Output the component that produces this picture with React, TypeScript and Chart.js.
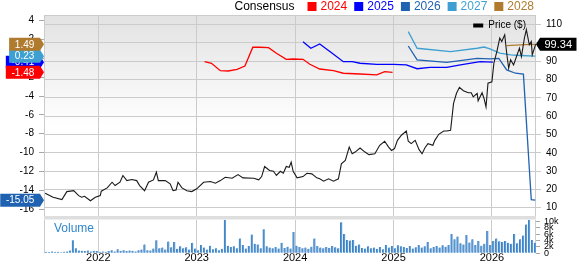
import React, { useEffect, useRef } from "react";
import { Chart, registerables } from "chart.js";

Chart.register(...registerables);

const FONT = "'Liberation Sans', Arial, Helvetica, sans-serif";

// ---------- axes ----------
const X_MIN = 2021.448;
const X_MAX = 2026.448;
const yearTicks = [2022, 2023, 2024, 2025, 2026];
const LEFT_MIN = -16.73;
const LEFT_MAX = 4.6;
const leftTicks = [4, 2, 0, -2, -4, -6, -8, -10, -12, -14, -16];
const RIGHT_MIN = 5.46;
const RIGHT_MAX = 115.3;
const rightTicks = [10, 20, 30, 40, 50, 60, 70, 80, 90, 100, 110];
const VOL_MAX = 10.5;
const volTicks = [0, 2, 4, 6, 8, 10];

// ---------- price ($, right axis) ----------
const priceYears = [
  2021.46, 2021.54, 2021.63, 2021.68, 2021.75, 2021.8, 2021.83, 2021.86, 2021.92, 2021.97,
  2022.02, 2022.03, 2022.09, 2022.14, 2022.17, 2022.22, 2022.25, 2022.29, 2022.34, 2022.39,
  2022.42, 2022.47, 2022.51, 2022.56, 2022.59, 2022.61, 2022.68, 2022.73, 2022.76, 2022.79,
  2022.81, 2022.85, 2022.9, 2022.95,
  2023.0, 2023.07, 2023.14, 2023.19, 2023.24, 2023.29, 2023.36, 2023.42, 2023.47, 2023.58,
  2023.63, 2023.66, 2023.69, 2023.74, 2023.78, 2023.81, 2023.85, 2023.88, 2023.91, 2023.94,
  2023.96, 2023.98,
  2024.02, 2024.08, 2024.12, 2024.17, 2024.22, 2024.25, 2024.29, 2024.34, 2024.39, 2024.44,
  2024.47, 2024.51, 2024.55, 2024.58, 2024.61, 2024.66, 2024.71, 2024.75, 2024.81, 2024.86,
  2024.91, 2024.95, 2024.98,
  2025.01, 2025.04, 2025.08, 2025.13, 2025.15, 2025.18, 2025.22, 2025.26, 2025.29, 2025.32,
  2025.35, 2025.4, 2025.42, 2025.46, 2025.51, 2025.54, 2025.58, 2025.61, 2025.64, 2025.67,
  2025.71, 2025.76, 2025.79, 2025.81, 2025.85, 2025.86, 2025.9, 2025.92, 2025.94, 2025.96,
  2026.0, 2026.02, 2026.05, 2026.08, 2026.1, 2026.13, 2026.15, 2026.17, 2026.19, 2026.22,
  2026.25, 2026.28, 2026.3, 2026.33, 2026.35, 2026.38, 2026.4, 2026.41, 2026.445,
];
const priceValues = [
  17.9, 15.7, 14.4, 18.8, 19.3, 16.6, 15.7, 16.2, 13.8, 15.7,
  16.6, 19.0, 20.8, 23.9, 22.1, 23.9, 27.6, 24.8, 25.4, 24.8,
  22.1, 19.3, 23.9, 25.2, 29.4, 24.8, 24.8, 23.0, 19.3, 19.7,
  23.9, 20.8, 19.3, 18.8,
  20.3, 23.9, 24.3, 23.4, 24.8, 26.6, 26.1, 28.1, 26.3, 26.1,
  25.2, 27.0, 32.5, 30.3, 29.9, 27.6, 29.9, 28.8, 32.5, 32.1,
  34.9, 29.9,
  26.3, 27.0, 28.8, 28.5, 26.3, 25.8, 24.5, 25.8, 24.5, 25.8,
  34.0, 35.8, 43.1, 39.5, 40.4, 42.6, 40.4, 39.0, 39.5, 44.1,
  46.3, 43.1, 41.3,
  42.3, 46.8, 49.6, 51.9, 46.3, 45.0, 46.8, 41.7, 39.5, 42.8,
  45.0, 44.1, 46.8, 50.1, 51.9, 51.9, 52.3, 67.0, 72.5, 75.8,
  73.9, 72.8, 72.8, 70.6, 72.5, 68.4, 72.8, 69.7, 65.1, 78.0,
  78.8, 89.0, 95.3, 102.7, 100.8, 104.5, 94.5, 86.2, 90.8, 88.0,
  92.6, 97.2, 92.6, 102.7, 107.3, 99.0, 100.8, 93.5, 99.34,
];

// ---------- consensus EPS estimates (left axis) ----------
const est2024Years = [
  2023.08, 2023.15, 2023.24, 2023.32, 2023.41, 2023.49, 2023.57, 2023.64, 2023.73, 2023.81,
  2023.91, 2023.98, 2024.08, 2024.15, 2024.25, 2024.39, 2024.49, 2024.66, 2024.83, 2024.91, 2024.99,
];
const est2024Values = [
  -0.35, -0.52, -1.31, -1.34, -1.16, -0.81, 1.18, 1.18, 1.13, 0.54,
  -0.1, -0.07, -0.1, -0.63, -1.13, -1.31, -1.58, -1.66, -1.76, -1.41, -1.48,
];
const est2025Years = [
  2024.08, 2024.16, 2024.25, 2024.37, 2024.49, 2024.58, 2024.66, 2024.83, 2025.0, 2025.13,
  2025.24, 2025.37, 2025.54, 2025.68, 2025.88, 2026.01,
];
const est2025Values = [
  1.77, 1.07, 1.53, 0.6, -0.35, -0.35, -0.52, -0.63, -0.63, -0.7,
  -1.1, -0.95, -0.95, -0.7, -0.35, -0.41,
];
const est2026Years = [2025.15, 2025.24, 2025.54, 2025.85, 2025.98, 2026.07, 2026.15, 2026.24, 2026.32, 2026.4, 2026.44];
const est2026Values = [1.31, -0.17, -0.42, 0.0, -0.05, 0.0, -1.23, -1.58, -1.68, -15.0, -15.05];
const est2027Years = [2025.15, 2025.24, 2025.58, 2025.85, 2025.92, 2025.98, 2026.08, 2026.19, 2026.29, 2026.44];
const est2027Values = [2.83, 1.07, 0.71, 1.07, 1.2, 1.0, 0.55, 0.36, 0.3, 0.23];
const est2028Years = [2026.15, 2026.24, 2026.34, 2026.44];
const est2028Values = [1.35, 1.4, 1.45, 1.49];

const seriesNames = ["2024", "2025", "2026", "2027", "2028"];
const seriesColors = ["#ff0000", "#0000ff", "#1f62b2", "#3ea0d2", "#b07b2e"];
const lastEstimates = [-1.48, -0.41, -15.05, 0.23, 1.49];
const lastPrice = 99.34;

// ---------- volume (thousands) ----------
const VOL_START = 2021.47;
const VOL_STEP = 0.0303;
const volumeValues = [
  0.5, 0.4, 0.6, 0.4, 0.5, 0.3, 0.5, 0.6, 0.9, 4.1,
  1.6, 0.9, 0.8, 0.7, 0.9, 0.6, 0.8, 0.7, 0.5, 0.6,
  0.5, 0.7, 1.0, 0.6, 1.3, 0.8, 1.0, 0.7, 0.9, 0.8,
  0.6, 1.0, 1.2, 2.8, 1.0, 0.9, 1.5, 4.1, 1.6, 1.8,
  1.2, 3.7, 1.9, 3.6, 1.4, 2.2, 1.6, 1.9, 1.2, 3.3,
  1.5, 1.0, 2.6, 1.8, 1.2, 2.4, 1.3, 1.6, 1.0, 1.4,
  10.8, 2.4, 2.0, 2.2, 1.6, 4.7, 2.6, 1.5, 2.3, 5.9,
  3.0, 2.8, 1.6, 7.6, 2.2, 1.8, 1.6, 2.0, 1.5, 3.3,
  1.7, 2.1, 1.5, 6.7, 2.4, 2.0, 1.6, 1.8, 1.4, 2.1,
  4.7, 2.3, 1.8, 1.6, 2.0, 1.7, 2.3, 1.9, 1.6, 9.8,
  6.1, 4.2, 4.0, 4.2, 2.4, 2.8, 1.7, 1.5, 2.2, 1.6,
  1.8, 1.4, 2.0, 1.3, 2.6, 1.8, 2.3, 1.6, 2.5, 2.2,
  2.0, 1.7, 2.3, 1.5, 1.9, 2.6, 1.8, 2.2, 3.6, 1.6,
  2.0, 2.3, 1.8, 2.5, 2.1, 2.6, 6.1, 4.4, 5.3, 3.2,
  2.8, 5.8, 3.4, 4.4, 2.6, 3.9, 2.4, 3.0, 7.0, 2.6,
  3.9, 4.7, 3.8, 3.6, 3.9, 3.3, 3.0, 6.1, 3.2, 4.4,
  5.6, 9.1, 10.6, 4.2, 3.3,
];

const GRID = "#cbcbcb";

const pts = (xs: number[], ys: number[]) => xs.map((x, i) => ({ x, y: ys[i] }));

const fixBox = (w?: number, h?: number) => (s: any) => {
  if (w !== undefined) s.width = w;
  if (h !== undefined) s.height = h;
  s.paddingLeft = 0;
  s.paddingRight = 0;
  s.paddingTop = 0;
  s.paddingBottom = 0;
};
const setTicks = (vals: number[]) => (s: any) => {
  s.ticks = vals.map((v) => ({ value: v }));
};

function flagLeft(ctx: CanvasRenderingContext2D, tipX: number, y: number, text: string, color: string) {
  ctx.font = `10px ${FONT}`;
  const w = ctx.measureText(text).width;
  const pad = 5.7, h = 13, arrow = 4;
  const right = tipX - arrow;
  const left = right - w - 2 * pad;
  ctx.beginPath();
  ctx.moveTo(left, y - h / 2);
  ctx.lineTo(right, y - h / 2);
  ctx.lineTo(tipX, y);
  ctx.lineTo(right, y + h / 2);
  ctx.lineTo(left, y + h / 2);
  ctx.closePath();
  ctx.fillStyle = color;
  ctx.fill();
  ctx.fillStyle = "#ffffff";
  ctx.textAlign = "center";
  ctx.textBaseline = "middle";
  ctx.fillText(text, (left + right) / 2, y + 0.5);
}

function flagRight(ctx: CanvasRenderingContext2D, tipX: number, y: number, text: string, color: string) {
  ctx.font = `11px ${FONT}`;
  const w = ctx.measureText(text).width;
  const pad = 4.5, h = 13, arrow = 4;
  const left = tipX + arrow;
  const right = left + w + 2 * pad;
  ctx.beginPath();
  ctx.moveTo(tipX, y);
  ctx.lineTo(left, y - h / 2);
  ctx.lineTo(right, y - h / 2);
  ctx.lineTo(right, y + h / 2);
  ctx.lineTo(left, y + h / 2);
  ctx.closePath();
  ctx.fillStyle = color;
  ctx.fill();
  ctx.fillStyle = "#ffffff";
  ctx.textAlign = "center";
  ctx.textBaseline = "middle";
  ctx.fillText(text, (left + right) / 2, y + 0.5);
}

const mainPlugin = {
  id: "mainDecor",
  beforeDraw(chart: any) {
    const { ctx, chartArea: a } = chart;
    ctx.save();
    const g = ctx.createLinearGradient(0, a.top, 0, a.bottom);
    g.addColorStop(0, "#e2e2e2");
    g.addColorStop(0.55, "#ffffff");
    g.addColorStop(1, "#ffffff");
    ctx.fillStyle = g;
    ctx.fillRect(a.left, a.top, a.right - a.left, a.bottom - a.top);
    ctx.restore();
  },
  beforeDatasetsDraw(chart: any) {
    const { ctx, chartArea: a } = chart;
    ctx.save();
    ctx.strokeStyle = GRID;
    ctx.lineWidth = 1;
    ctx.strokeRect(a.left + 0.5, a.top + 0.5, a.right - a.left - 1, a.bottom - a.top);
    ctx.restore();
  },
  afterDraw(chart: any) {
    const { ctx, chartArea: a, scales } = chart;
    ctx.save();
    // top legend
    ctx.font = `12px ${FONT}`;
    ctx.textBaseline = "middle";
    ctx.textAlign = "left";
    const cw = ctx.measureText("Consensus").width;
    const ws = seriesNames.map((t) => ctx.measureText(t).width);
    const sq = 9;
    let total = cw + 13;
    ws.forEach((w, i) => {
      total += sq + 4 + w + (i < ws.length - 1 ? 7 : 0);
    });
    let x = a.right - 2 - total;
    const ly = 6.5;
    ctx.fillStyle = "#000000";
    ctx.fillText("Consensus", x, ly);
    x += cw + 13;
    seriesNames.forEach((t, i) => {
      ctx.fillStyle = seriesColors[i];
      ctx.fillRect(x, ly - 4.5, sq, 9);
      x += sq + 4;
      ctx.fillText(t, x, ly);
      x += ws[i] + 7;
    });
    // price legend
    ctx.font = `10px ${FONT}`;
    const pw = ctx.measureText("Price ($)").width;
    const px = a.right - 10 - pw;
    ctx.fillStyle = "#000000";
    ctx.fillText("Price ($)", px, 25.5);
    ctx.fillRect(px - 15, 23.5, 10, 4);
    // left flags (estimates)
    const yl = scales.yL;
    const order = [1, 3, 0, 4, 2];
    order.forEach((i) => {
      flagLeft(ctx, a.left, yl.getPixelForValue(lastEstimates[i]), lastEstimates[i].toFixed(2), seriesColors[i]);
    });
    // right flag (price)
    flagRight(ctx, a.right, scales.yR.getPixelForValue(lastPrice), lastPrice.toFixed(2), "#000000");
    ctx.restore();
  },
};

const volPlugin = {
  id: "volDecor",
  beforeDraw(chart: any) {
    const { ctx, chartArea: a } = chart;
    ctx.save();
    ctx.fillStyle = "#dedede";
    ctx.fillRect(a.left, 0, a.right - a.left, 3.5);
    ctx.restore();
  },
  beforeDatasetsDraw(chart: any) {
    const { ctx, chartArea: a } = chart;
    ctx.save();
    ctx.strokeStyle = GRID;
    ctx.lineWidth = 1;
    ctx.beginPath();
    ctx.moveTo(a.left + 0.5, a.top);
    ctx.lineTo(a.left + 0.5, a.bottom);
    ctx.moveTo(a.right - 0.5, a.top);
    ctx.lineTo(a.right - 0.5, a.bottom);
    ctx.stroke();
    ctx.font = `12px ${FONT}`;
    ctx.fillStyle = "#2f86cc";
    ctx.textAlign = "left";
    ctx.textBaseline = "middle";
    ctx.fillText("Volume", a.left + 10, a.top + 9);
    ctx.restore();
  },
};

export default function App() {
  const mainRef = useRef<HTMLCanvasElement>(null);
  const volRef = useRef<HTMLCanvasElement>(null);

  useEffect(() => {
    const estSets = [
      [est2024Years, est2024Values],
      [est2025Years, est2025Values],
      [est2026Years, est2026Values],
      [est2027Years, est2027Values],
      [est2028Years, est2028Values],
    ].map(([xs, ys], i) => ({
      label: seriesNames[i],
      data: pts(xs, ys),
      yAxisID: "yL",
      borderColor: seriesColors[i],
      borderWidth: 1.3,
      pointRadius: 0,
      tension: 0,
    }));

    const main = new Chart(mainRef.current!, {
      type: "line",
      data: {
        datasets: [
          {
            label: "Price ($)",
            data: pts(priceYears, priceValues),
            yAxisID: "yR",
            borderColor: "#1a1a1a",
            borderWidth: 1.1,
            pointRadius: 0,
            tension: 0,
          },
          ...estSets,
        ],
      },
      options: {
        responsive: false,
        animation: false,
        events: [],
        layout: { padding: { top: 15, bottom: 0, left: 0, right: 0 } },
        plugins: { legend: { display: false }, tooltip: { enabled: false } },
        scales: {
          x: {
            type: "linear",
            min: X_MIN,
            max: X_MAX,
            afterBuildTicks: setTicks(yearTicks),
            afterFit: fixBox(undefined, 0),
            ticks: { display: false },
            grid: { color: GRID, drawTicks: false, lineWidth: 1 },
            border: { display: false },
          },
          yL: {
            type: "linear",
            position: "left",
            min: LEFT_MIN,
            max: LEFT_MAX,
            afterBuildTicks: setTicks(leftTicks),
            afterFit: fixBox(44),
            ticks: {
              color: "#000",
              font: { family: FONT, size: 10 },
              padding: 5,
              autoSkip: false,
              callback: (v: any) => String(v),
            },
            grid: { drawOnChartArea: false, tickLength: 5, color: "#a8a8a8" },
            border: { display: false },
          },
          yR: {
            type: "linear",
            position: "right",
            min: RIGHT_MIN,
            max: RIGHT_MAX,
            afterBuildTicks: setTicks(rightTicks),
            afterFit: fixBox(41),
            ticks: {
              color: "#000",
              font: { family: FONT, size: 10 },
              padding: 5,
              autoSkip: false,
              callback: (v: any) => String(v),
            },
            grid: { color: GRID, tickLength: 5, lineWidth: 1 },
            border: { display: false },
          },
        },
      },
      plugins: [mainPlugin],
    } as any);

    const vol = new Chart(volRef.current!, {
      type: "bar",
      data: {
        datasets: [
          {
            label: "Volume",
            data: volumeValues.map((v, i) => ({ x: VOL_START + i * VOL_STEP, y: v })),
            backgroundColor: "#5b9bd5",
            borderColor: "#3f7fc2",
            borderWidth: { left: 1, right: 0, top: 0, bottom: 0 },
            barThickness: 2,
          },
        ],
      },
      options: {
        responsive: false,
        animation: false,
        events: [],
        layout: { padding: { top: 4, bottom: 0, left: 44, right: 0 } },
        plugins: { legend: { display: false }, tooltip: { enabled: false } },
        scales: {
          x: {
            type: "linear",
            min: X_MIN,
            max: X_MAX,
            offset: false,
            afterBuildTicks: setTicks(yearTicks),
            afterFit: fixBox(undefined, 10.7),
            ticks: {
              color: "#000",
              font: { family: FONT, size: 11 },
              padding: -2,
              maxRotation: 0,
              autoSkip: false,
              callback: (v: any) => String(v),
            },
            grid: { color: GRID, drawTicks: false, offset: false },
            border: { display: false },
          },
          y: {
            type: "linear",
            position: "right",
            min: 0,
            max: VOL_MAX,
            afterBuildTicks: setTicks(volTicks),
            afterFit: fixBox(41),
            ticks: {
              color: "#000",
              font: { family: FONT, size: 9 },
              padding: 4,
              autoSkip: false,
              callback: (v: any) => (v === 0 ? "0" : `${v}k`),
            },
            grid: { drawOnChartArea: false, tickLength: 4, color: "#a8a8a8" },
            border: { display: false },
          },
        },
      },
      plugins: [volPlugin],
    } as any);

    return () => {
      main.destroy();
      vol.destroy();
    };
  }, []);

  return (
    <div style={{ position: "fixed", left: 0, top: 0, width: 577, height: 264, background: "#ffffff" }}>
      <canvas
        ref={mainRef}
        width={577}
        height={216}
        style={{ position: "absolute", left: 0, top: 0, width: 577, height: 216 }}
      />
      <canvas
        ref={volRef}
        width={577}
        height={48}
        style={{ position: "absolute", left: 0, top: 216, width: 577, height: 48 }}
      />
    </div>
  );
}
